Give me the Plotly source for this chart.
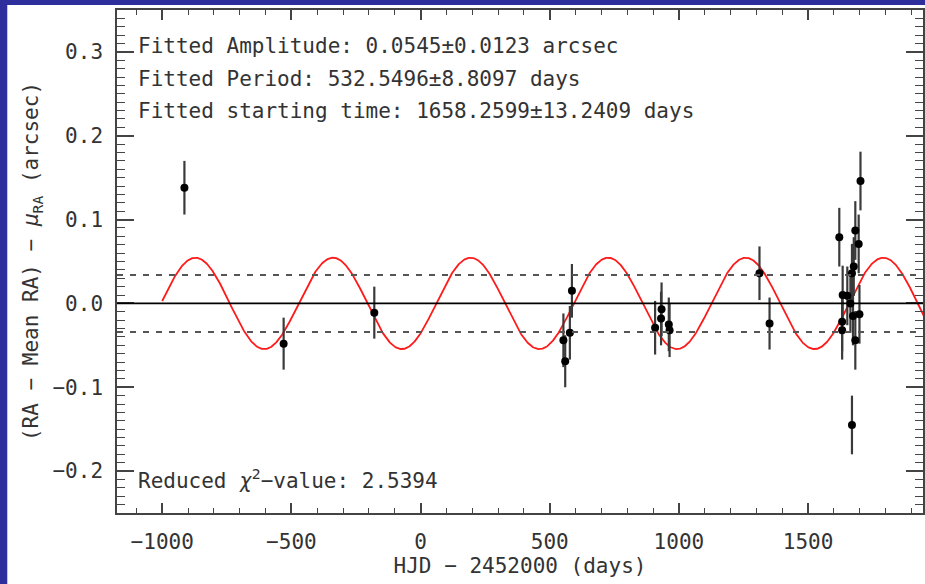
import plotly.graph_objects as go
import numpy as np

# ---- data ----
hjd = [-914, -530, -179, 553, 560, 578, 586, 908, 931, 933, 961, 964, 1312, 1351,
       1621, 1632, 1632, 1634, 1652, 1664, 1670, 1670, 1674, 1677, 1683, 1683, 1696, 1699, 1703]
dra = [0.138, -0.048, -0.011, -0.044, -0.069, -0.035, 0.015, -0.029, -0.018, -0.007, -0.025, -0.032,
       0.036, -0.024, 0.079, -0.022, -0.032, 0.010, 0.009, 0.000, 0.036, -0.145, -0.015, 0.044,
       0.087, -0.044, 0.071, -0.013, 0.146]
err = [0.032, 0.031, 0.031, 0.032, 0.031, 0.032, 0.032, 0.032, 0.032, 0.032, 0.032, 0.032,
       0.032, 0.031, 0.035, 0.035, 0.035, 0.035, 0.035, 0.035, 0.035, 0.035, 0.035, 0.035,
       0.035, 0.035, 0.035, 0.035, 0.035]

# fitted sinusoid parameters (from the chart text)
amp = 0.0545
period = 532.5496
t0 = 1658.2599
curve_start, curve_end = -1000, 1960
sigma_level = 0.034

x_range = [-1175, 1945]
y_range = [-0.25, 0.35]

t = np.linspace(curve_start, curve_end, 1500)
model = amp * np.sin(2 * np.pi * (t - t0) / period)

FONT = "DejaVu Sans Mono"
TXT = "#333333"
AX = "#444444"

fig = go.Figure()

fig.add_trace(go.Scatter(x=t, y=model, mode="lines",
                         line=dict(color="#ff1a1a", width=1.8), hoverinfo="skip"))
fig.add_trace(go.Scatter(x=hjd, y=dra, mode="markers",
                         marker=dict(color="black", size=8),
                         error_y=dict(type="data", array=err, color="#3a3a3a",
                                      thickness=2.2, width=0)))

# horizontal reference lines
fig.add_shape(type="line", xref="paper", x0=0, x1=1, yref="y", y0=0, y1=0,
              line=dict(color="black", width=1.6))
for lv in (sigma_level, -sigma_level):
    fig.add_shape(type="line", xref="paper", x0=0, x1=1, yref="y", y0=lv, y1=lv,
                  line=dict(color="#555555", width=2, dash="6px,7px"))

# white panel over the blue frame
fig.add_shape(type="rect", xref="paper", yref="paper",
              x0=(7 - 117) / 808, x1=1.01, y0=(513 - 590) / 503, y1=(513 - 5) / 503,
              fillcolor="white", line=dict(width=0), layer="below")

ann_font = dict(family=FONT, size=21, color=TXT)
lines = ["Fitted Amplitude: 0.0545\u00b10.0123 arcsec",
         "Fitted Period: 532.5496\u00b18.8097 days",
         "Fitted starting time: 1658.2599\u00b113.2409 days"]
for i, s in enumerate(lines):
    fig.add_annotation(text=s, xref="paper", yref="paper", x=0.0235,
                       y=(513 - (46 + 32.5 * i)) / 503, xanchor="left", yanchor="middle",
                       showarrow=False, font=ann_font)
fig.add_annotation(text="Reduced <i>\u03c7</i><sup>2</sup>\u2212value: 2.5394", xref="paper", yref="paper",
                   x=0.0235, y=(513 - 479) / 503, xanchor="left", yanchor="middle",
                   showarrow=False, font=ann_font)

fig.update_layout(
    width=925, height=584,
    margin=dict(l=117, r=0, t=10, b=71),
    paper_bgcolor="#2e2e9c", plot_bgcolor="white",
    showlegend=False,
    font=dict(family=FONT, size=21, color=TXT),
)
fig.update_xaxes(
    range=x_range, showgrid=False, zeroline=False,
    showline=True, linecolor=AX, linewidth=1.5, mirror="ticks",
    ticks="inside", ticklen=10, tickwidth=1.5, tickcolor=AX,
    tickvals=[-1000, -500, 0, 500, 1000, 1500],
    ticktext=["\u22121000", "\u2212500", "0", "500", "1000", "1500"],
    minor=dict(dtick=100, ticks="inside", ticklen=5, tickwidth=1.2, tickcolor=AX),
    ticklabelstandoff=9,
    title=dict(text="HJD \u2212 2452000 (days)", standoff=4, font=dict(size=21)),
)
fig.update_yaxes(
    range=y_range, showgrid=False, zeroline=False,
    showline=True, linecolor=AX, linewidth=1.5, mirror="ticks",
    ticks="inside", ticklen=17, tickwidth=1.5, tickcolor=AX,
    tickvals=[-0.2, -0.1, 0.0, 0.1, 0.2, 0.3],
    ticktext=["\u22120.2", "\u22120.1", "0.0", "0.1", "0.2", "0.3"],
    minor=dict(dtick=0.01, ticks="inside", ticklen=8, tickwidth=1.2, tickcolor=AX),
    ticklabelstandoff=8,
    title=dict(text="(RA \u2212 Mean RA) \u2212 <i>\u03bc</i><sub>RA</sub> (arcsec)", standoff=8,
               font=dict(size=21)),
)

fig.write_html("out.html")
